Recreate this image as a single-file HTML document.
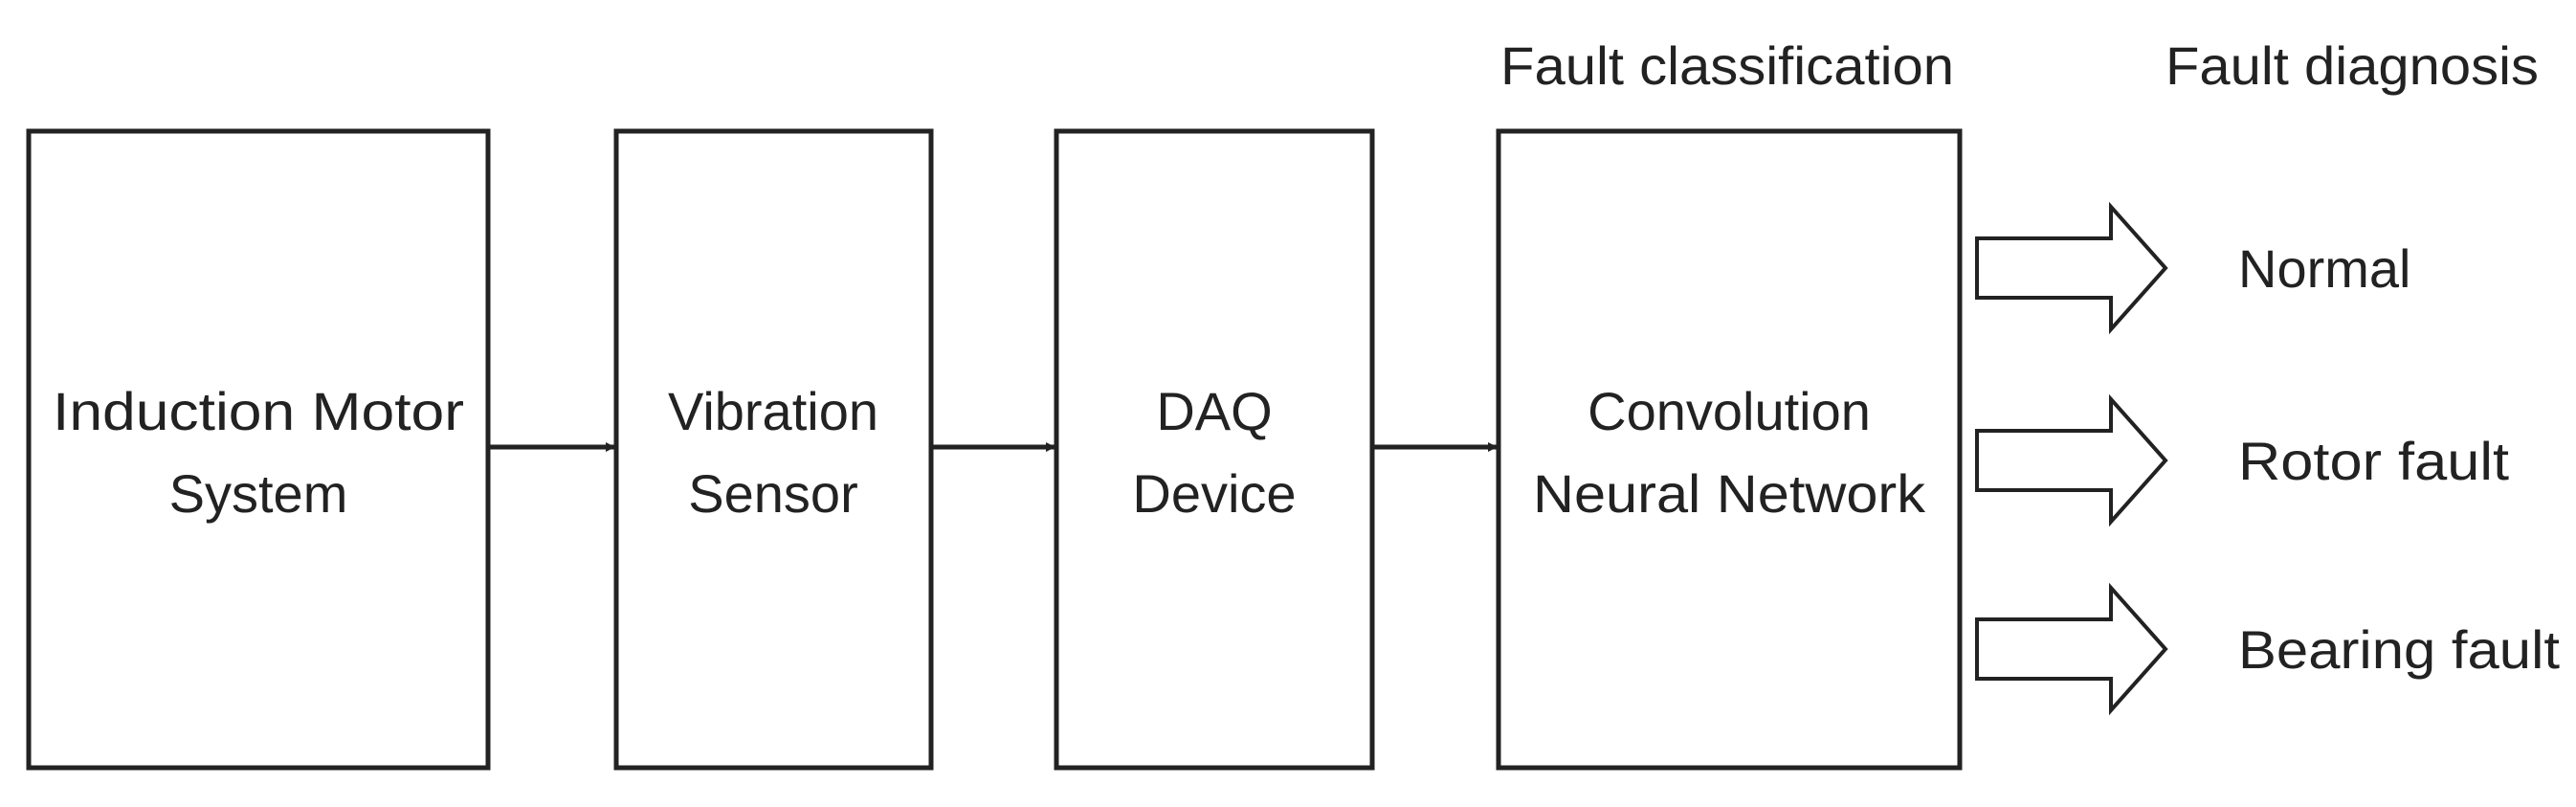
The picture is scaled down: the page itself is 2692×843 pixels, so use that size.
<!DOCTYPE html>
<html><head><style>
html,body{margin:0;padding:0;background:#fff;}
body{width:2692px;height:838px;position:relative;overflow:hidden;}
</style></head><body>
<svg width="2692" height="838" viewBox="0 0 2692 838" xmlns="http://www.w3.org/2000/svg" font-family="Liberation Sans, sans-serif" fill="#222">
<defs><marker id="a" markerWidth="10" markerHeight="10" refX="9" refY="5" orient="auto" markerUnits="userSpaceOnUse"><path d="M0,0 L10,5 L0,10 z" fill="#222"/></marker></defs>
<g fill="none" stroke="#222" stroke-width="5">
<rect x="30" y="137" width="480" height="665"/>
<rect x="644" y="137" width="329" height="665"/>
<rect x="1104" y="137" width="330" height="665"/>
<rect x="1566" y="137" width="482" height="665"/>
<line x1="510" y1="467" x2="642" y2="467" marker-end="url(#a)"/>
<line x1="973" y1="467" x2="1102" y2="467" marker-end="url(#a)"/>
<line x1="1434" y1="467" x2="1564" y2="467" marker-end="url(#a)"/>
<g stroke-width="4">
<path d="M2066,249 H2206 V216 L2263,280 L2206,344 V311 H2066 Z"/>
<path d="M2066,450 H2206 V417 L2263,481 L2206,545 V512 H2066 Z"/>
<path d="M2066,647 H2206 V614 L2263,678 L2206,742 V709 H2066 Z"/>
</g></g>
<g font-size="56" text-anchor="middle">
<text x="270" y="449" textLength="430" lengthAdjust="spacingAndGlyphs">Induction Motor</text>
<text x="270" y="535">System</text>
<text x="808" y="449">Vibration</text>
<text x="808" y="535">Sensor</text>
<text x="1269" y="449">DAQ</text>
<text x="1269" y="535">Device</text>
<text x="1807" y="449">Convolution</text>
<text x="1807" y="535" textLength="410" lengthAdjust="spacingAndGlyphs">Neural Network</text>
<text x="1805" y="88" textLength="474" lengthAdjust="spacingAndGlyphs">Fault classification</text>
<text x="2458" y="88" textLength="390" lengthAdjust="spacingAndGlyphs">Fault diagnosis</text>
</g>
<g font-size="56">
<text x="2339" y="300">Normal</text>
<text x="2339" y="501" textLength="283" lengthAdjust="spacingAndGlyphs">Rotor fault</text>
<text x="2339" y="698" textLength="336" lengthAdjust="spacingAndGlyphs">Bearing fault</text>
</g>
</svg>
</body></html>
